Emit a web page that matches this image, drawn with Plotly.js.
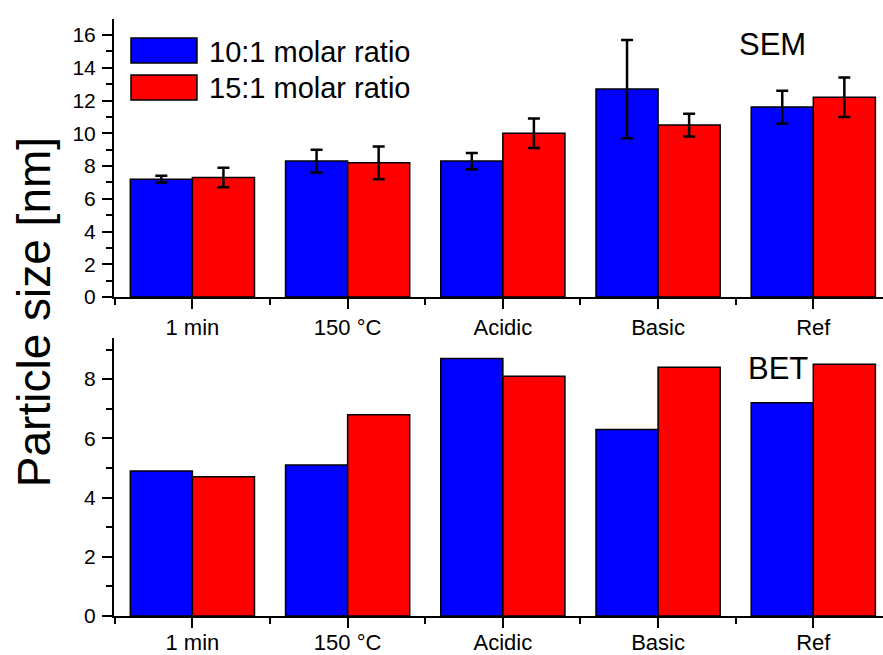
<!DOCTYPE html>
<html>
<head>
<meta charset="utf-8">
<script src="https://cdn.plot.ly/plotly-3.0.1.min.js"></script>
<style>html,body{margin:0;padding:0;background:#fff;}#chart{width:883px;height:655px;}</style>
</head>
<body>
<div id="chart"></div>
<script>
// ---- data ----
const categories = ["1 min", "150 °C", "Acidic", "Basic", "Ref"];
const seriesNames = ["10:1 molar ratio", "15:1 molar ratio"];
const semRatio10 = [7.2, 8.3, 8.3, 12.7, 11.6];
const semRatio10Err = [0.2, 0.7, 0.5, 3.0, 1.0];
const semRatio15 = [7.3, 8.2, 10.0, 10.5, 12.2];
const semRatio15Err = [0.6, 1.0, 0.9, 0.7, 1.2];
const betRatio10 = [4.9, 5.1, 8.7, 6.3, 7.2];
const betRatio15 = [4.7, 6.8, 8.1, 8.4, 8.5];
const panelLabels = ["SEM", "BET"];
const yTitle = "Particle size [nm]";
const semTicks = [0, 2, 4, 6, 8, 10, 12, 14, 16];
const betTicks = [0, 2, 4, 6, 8];

const colors = ["#0000ff", "#ff0000"];
const xIdx = categories.map((_, i) => i);
const FONT = "Liberation Sans, Arial, sans-serif";

function bar(y, err, color, xa, ya) {
  const t = {
    type: "bar", x: xIdx, y: y, xaxis: xa, yaxis: ya,
    marker: {color: color, line: {color: "#000", width: 1.5}},
    showlegend: false, hoverinfo: "y"
  };
  if (err) t.error_y = {type: "data", array: err, visible: true, color: "#000", thickness: 2.5, width: 6};
  return t;
}

const data = [
  bar(semRatio10, semRatio10Err, colors[0], "x", "y"),
  bar(semRatio15, semRatio15Err, colors[1], "x", "y"),
  bar(betRatio10, null, colors[0], "x2", "y2"),
  bar(betRatio15, null, colors[1], "x2", "y2")
];

const xBase = {
  tickmode: "array", tickvals: xIdx, ticktext: categories,
  range: [-0.505, 4.449], showline: true, linecolor: "#000", linewidth: 2,
  ticks: "outside", ticklen: 10, tickwidth: 2, tickcolor: "#000",
  minor: {tick0: 0.5, dtick: 1, ticks: "outside", ticklen: 6, tickwidth: 2, tickcolor: "#000"},
  showgrid: false, zeroline: false, fixedrange: true,
  tickfont: {family: FONT, size: 22, color: "#000"}, ticklabelstandoff: 0
};
const yBase = {
  showline: true, linecolor: "#000", linewidth: 2,
  ticks: "outside", ticklen: 10, tickwidth: 2, tickcolor: "#000",
  minor: {dtick: 1, ticks: "outside", ticklen: 6, tickwidth: 2, tickcolor: "#000"},
  showgrid: false, zeroline: false, fixedrange: true,
  tickfont: {family: FONT, size: 21, color: "#000"}, ticklabelstandoff: 2
};

const layout = {
  width: 883, height: 655,
  margin: {l: 114, r: 0, t: 19, b: 39},
  paper_bgcolor: "#fff", plot_bgcolor: "rgba(0,0,0,0)",
  barmode: "group", bargap: 0.2, bargroupgap: 0,
  showlegend: false,
  xaxis: Object.assign({}, xBase, {anchor: "y", domain: [0, 1]}),
  yaxis: Object.assign({}, yBase, {anchor: "x", domain: [0.5343, 1], range: [0, 16.98], tickvals: semTicks}),
  xaxis2: Object.assign({}, xBase, {anchor: "y2", domain: [0, 1], ticklabelstandoff: -4}),
  yaxis2: Object.assign({}, yBase, {anchor: "x2", domain: [0, 0.4657], range: [0, 9.39], tickvals: betTicks}),
  shapes: [
    {type: "rect", xref: "paper", yref: "paper", x0: 0.0221, x1: 0.1079, y0: 0.9263, y1: 0.9682,
     fillcolor: colors[0], line: {color: "#000", width: 1.5}},
    {type: "rect", xref: "paper", yref: "paper", x0: 0.0221, x1: 0.1079, y0: 0.8643, y1: 0.9062,
     fillcolor: colors[1], line: {color: "#000", width: 1.5}}
  ],
  annotations: [
    {xref: "paper", yref: "paper", x: 0.1209, y: 0.9448, xanchor: "left", yanchor: "middle",
     text: seriesNames[0], showarrow: false, font: {family: FONT, size: 29, color: "#000"}},
    {xref: "paper", yref: "paper", x: 0.1209, y: 0.8844, xanchor: "left", yanchor: "middle",
     text: seriesNames[1], showarrow: false, font: {family: FONT, size: 29, color: "#000"}},
    {xref: "paper", yref: "paper", x: 0.8557, y: 0.958, xanchor: "center", yanchor: "middle",
     text: panelLabels[0], showarrow: false, font: {family: FONT, size: 31, color: "#000"}},
    {xref: "paper", yref: "paper", x: 0.8635, y: 0.4154, xanchor: "center", yanchor: "middle",
     text: panelLabels[1], showarrow: false, font: {family: FONT, size: 31, color: "#000"}},
    {xref: "paper", yref: "paper", x: -0.104, y: 0.509, xanchor: "center", yanchor: "middle",
     text: yTitle, textangle: -90, showarrow: false, font: {family: FONT, size: 46, color: "#000"}}
  ]
};

Plotly.newPlot("chart", data, layout, {staticPlot: true, displayModeBar: false});
</script>
</body>
</html>
